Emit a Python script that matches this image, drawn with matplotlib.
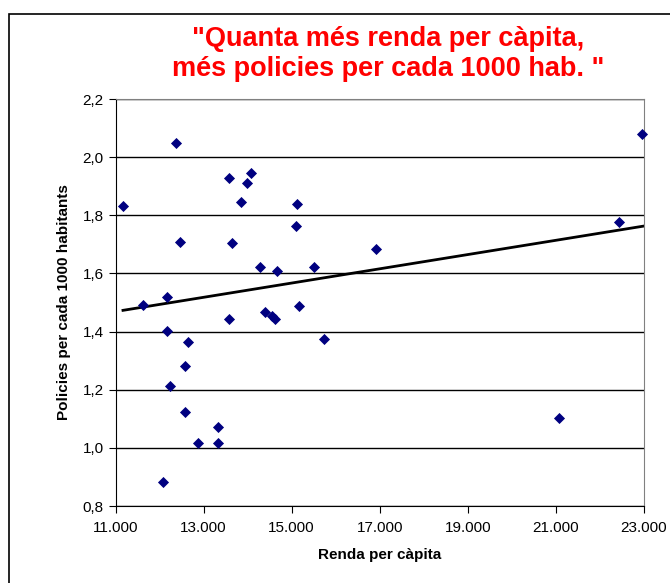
import numpy as np
import matplotlib.pyplot as plt
from matplotlib.patches import Rectangle
from matplotlib.ticker import FuncFormatter

plt.rcParams['font.family'] = ['Liberation Sans', 'DejaVu Sans']

# Renda per capita (x) and policies per 1000 habitants (y)
renda = [11170, 11631, 12175, 12175, 12653, 12586, 12237, 12586, 12873, 13320,
         13320, 12079, 13577, 14395, 14561, 14622, 15167, 15734, 12367, 12457,
         13570, 14077, 13979, 13857, 13638, 15129, 15099, 14274, 14660, 15507,
         16908, 21070, 22440, 22948]
policies = [1.832, 1.491, 1.518, 1.401, 1.363, 1.280, 1.213, 1.122, 1.017, 1.071,
            1.017, 0.881, 1.444, 1.468, 1.453, 1.444, 1.488, 1.373, 2.048, 1.709,
            1.927, 1.947, 1.912, 1.845, 1.706, 1.840, 1.763, 1.623, 1.608, 1.623,
            1.685, 1.103, 1.777, 2.081]

# linear trend line as drawn (end points)
trend_x = [11170, 23000]
trend_y = [1.473, 1.763]

x_ticks = [11000, 13000, 15000, 17000, 19000, 21000, 23000]
y_ticks = [0.8, 1.0, 1.2, 1.4, 1.6, 1.8, 2.0, 2.2]

W, H = 670, 583
fig = plt.figure(figsize=(W / 100, H / 100), dpi=100)

# outer chart frame (cut off at right/bottom like the screenshot)
fig.patches.append(Rectangle((8.5 / W, -0.05), 1.2, 1 - 13.5 / H + 0.05,
                             transform=fig.transFigure, fill=False,
                             edgecolor='black', linewidth=1.2))

ax = fig.add_axes([115.5 / W, 1 - 506 / H, (644 - 115.5) / W, (506 - 99) / H])

ax.scatter(renda, policies, marker='D', s=32, color='#000080', zorder=3,
           linewidths=0, clip_on=False)

ax.plot(trend_x, trend_y, color='black', linewidth=2, zorder=2)

ax.set_xlim(x_ticks[0], x_ticks[-1])
ax.set_ylim(y_ticks[0], y_ticks[-1])
ax.set_xticks(x_ticks)
ax.set_yticks(y_ticks)
ax.xaxis.set_major_formatter(FuncFormatter(lambda v, p: f"{int(v):,}".replace(',', '.')))
ax.yaxis.set_major_formatter(FuncFormatter(lambda v, p: f"{v:.1f}".replace('.', ',')))
ax.tick_params(axis='both', direction='out', length=5, labelsize=11, colors='black')
ax.tick_params(axis='x', pad=6)

ax.grid(axis='y', color='black', linewidth=1)
ax.set_axisbelow(True)
for side in ['top', 'right']:
    ax.spines[side].set_color('#808080')
for side in ['left', 'bottom']:
    ax.spines[side].set_color('black')

ax.set_xlabel("Renda per càpita", fontsize=11, fontweight='bold', labelpad=9)
ax.set_ylabel("Policies per cada 1000 habitants", fontsize=11, fontweight='bold', labelpad=8)

fig.text(388 / W, 1 - 54 / H, "\"Quanta més renda per càpita,\nmés policies per cada 1000 hab. \"",
         ha='center', va='center', color='red', fontsize=19.5, fontweight='bold',
         linespacing=1.2)

fig.savefig("out.png", dpi=100)
